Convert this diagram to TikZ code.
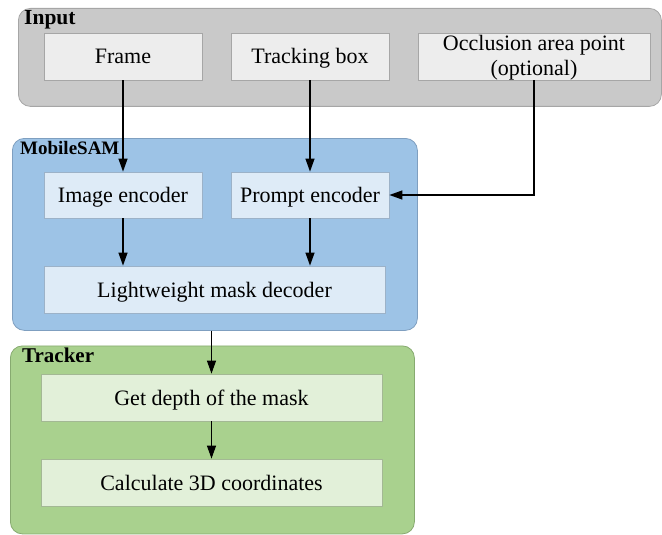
\documentclass[tikz,border=0pt]{standalone}
\usepackage{fontspec}
\setmainfont{Liberation Serif}
\usetikzlibrary{arrows.meta}
\definecolor{incont}{HTML}{C9C9C9}
\definecolor{inborder}{HTML}{A6A6A6}
\definecolor{inbox}{HTML}{EDEDED}
\definecolor{samcont}{HTML}{9DC3E6}
\definecolor{samborder}{HTML}{7F9FC0}
\definecolor{sambox}{HTML}{DEEBF7}
\definecolor{samboxb}{HTML}{9CB2C8}
\definecolor{trcont}{HTML}{A9D18E}
\definecolor{trborder}{HTML}{87AA70}
\definecolor{trbox}{HTML}{E2F0D9}
\definecolor{trboxb}{HTML}{A3B894}
\tikzset{
  cont/.style={draw, rounded corners=12pt, anchor=north west, inner sep=0pt, line width=0.8pt},
  boxbase/.style={draw, inner sep=0pt, line width=0.8pt, font=\fontsize{22}{24.5}\selectfont, align=center},
  gbox/.style={boxbase, fill=inbox, draw=inborder},
  bbox/.style={boxbase, fill=sambox, draw=samboxb},
  tbox/.style={boxbase, fill=trbox, draw=trboxb},
  lbl/.style={anchor=base west, inner sep=0pt, font=\bfseries\fontsize{21.5}{24}\selectfont},
  arr/.style={line width=1.2pt, -{Triangle[length=13pt,width=9pt]}},
  txt/.style={inner sep=0pt, font=\fontsize{22}{24.5}\selectfont, align=center}
}
\begin{document}
\begin{tikzpicture}[x=1pt,y=-1pt]
\useasboundingbox (0,0) rectangle (662,535);
% containers
\node[cont, fill=incont, draw=inborder, minimum width=643pt, minimum height=98pt] (input) at (18,8) {};
\node[cont, fill=samcont, draw=samborder, minimum width=405pt, minimum height=192pt] (sam) at (12,138) {};
\node[cont, fill=trcont, draw=trborder, minimum width=404pt, minimum height=188pt] (trk) at (10,345.5) {};
% labels
\node[lbl] (inlbl) at (24,24.5) {Input};
\node[lbl, font=\bfseries\fontsize{19}{22}\selectfont] (samlbl) at (20,154) {MobileSAM};
\node[lbl, font=\bfseries\fontsize{21}{24}\selectfont] (trlbl) at (22,362) {Tracker};
% input boxes
\node[gbox, minimum width=158pt, minimum height=47pt] (frame) at (123,56.5) {};
\node[gbox, minimum width=158pt, minimum height=47pt] (track) at (310,56.5) {};
\node[gbox, minimum width=232pt, minimum height=47pt] (occl) at (534,56.5) {};
\node[txt, anchor=base] (frametxt) at (123,64) {Frame};
\node[txt, anchor=base] (tracktxt) at (310,64) {Tracking box};
\node[txt, anchor=base] (occltxt1) at (534,51) {Occlusion area point};
\node[txt, anchor=base] (occltxt2) at (534,76) {(optional)};
% MobileSAM boxes
\node[bbox, minimum width=158pt, minimum height=46pt] (imgenc) at (123,195) {};
\node[bbox, minimum width=158pt, minimum height=46pt] (prompt) at (310,195) {};
\node[bbox, minimum width=341pt, minimum height=47pt] (dec) at (214.5,289.5) {};
\node[txt, anchor=base] (imgtxt) at (123,202) {Image encoder};
\node[txt, anchor=base] (prtxt) at (310,202) {Prompt encoder};
\node[txt, anchor=base] (dectxt) at (214.5,297) {Lightweight mask decoder};
% Tracker boxes
\node[tbox, minimum width=341pt, minimum height=47pt] (depth) at (211.5,397.5) {};
\node[tbox, minimum width=341pt, minimum height=47pt] (calc) at (211.5,482.5) {};
\node[txt, anchor=base] (deptxt) at (211.5,405) {Get depth of the mask};
\node[txt, anchor=base] (caltxt) at (211.5,490) {Calculate 3D coordinates};
% arrows
\draw[arr] (frame.south) -- (imgenc.north);
\draw[arr] (track.south) -- (prompt.north);
\draw[arr] (occl.south) -- (occl.south |- prompt.east) -- (prompt.east);
\draw[arr] (imgenc.south) -- (imgenc.south |- dec.north);
\draw[arr] (prompt.south) -- (prompt.south |- dec.north);
\draw[arr] (sam.south -| depth.north) -- (depth.north);
\draw[arr] (depth.south) -- (calc.north);
\end{tikzpicture}
\end{document}
